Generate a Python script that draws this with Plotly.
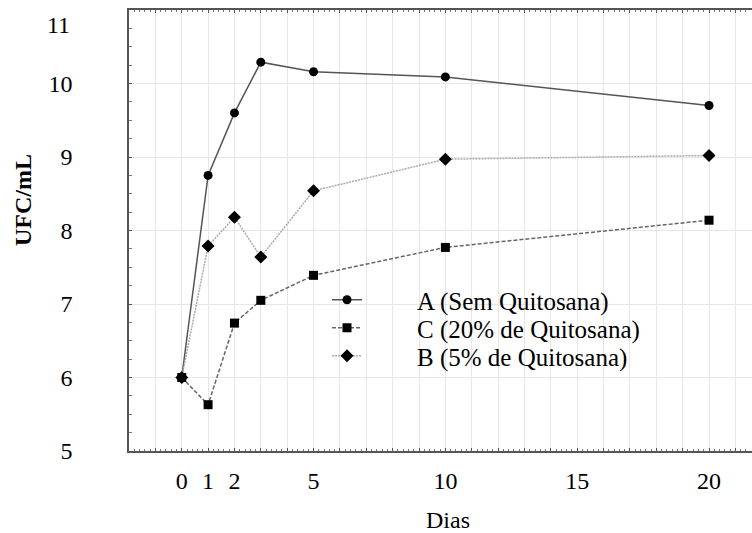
import plotly.graph_objects as go

dias = [0, 1, 2, 3, 5, 10, 20]
serie_a = [6.0, 8.75, 9.60, 10.29, 10.16, 10.09, 9.70]   # A (Sem Quitosana)
serie_c = [6.0, 5.63, 6.74, 7.05, 7.39, 7.77, 8.14]      # C (20% de Quitosana)
serie_b = [6.0, 7.79, 8.18, 7.64, 8.54, 8.97, 9.02]      # B (5% de Quitosana)

x_labels = [0, 1, 2, 5, 10, 15, 20]
x_grid = list(range(-1, 22))
y_ticks = [5, 6, 7, 8, 9, 10, 11]
y_top_label = 11

FONT = "Liberation Serif"
PAD = "\u00a0" * 8
L, T, B, W, H = 129, 10, 451, 752, 533
PW, PH = W - L, B - T


def py(y_px):
    return (B - y_px) / PH


def px(x_px):
    return (x_px - L) / PW


fig = go.Figure()
fig.add_trace(go.Scatter(
    x=dias, y=serie_a, name=PAD + "A (Sem Quitosana)", mode="lines+markers",
    line=dict(color="#555555", width=1.5), legend="legend",
    marker=dict(symbol="circle", size=9, color="black")))
fig.add_trace(go.Scatter(
    x=dias, y=serie_c, name=PAD + "C (20% de Quitosana)", mode="lines+markers",
    line=dict(color="#666666", width=1.5, dash="4px,2px"), legend="legend2",
    marker=dict(symbol="square", size=9, color="black")))
fig.add_trace(go.Scatter(
    x=dias, y=serie_b, name=PAD + "B (5% de Quitosana)", mode="lines+markers",
    line=dict(color="#aaaaaa", width=1.5, dash="2px,1px"), legend="legend3",
    marker=dict(symbol="diamond", size=10, color="black")))

leg_font = dict(family=FONT, size=25, color="black")
leg_common = dict(xanchor="left", yanchor="middle", bgcolor="rgba(0,0,0,0)",
                  borderwidth=0, font=leg_font, x=px(327))

fig.update_layout(
    width=W, height=H,
    margin=dict(l=L, r=0, t=T, b=H - B, autoexpand=False),
    paper_bgcolor="white", plot_bgcolor="white",
    font=dict(family=FONT, color="black", size=24),
    showlegend=True,
    legend=dict(y=py(300), **leg_common),
    legend2=dict(y=py(328), **leg_common),
    legend3=dict(y=py(356), **leg_common),
    shapes=[dict(type="rect", xref="paper", yref="paper", layer="between",
                 x0=px(331), x1=px(668), y0=py(380), y1=py(281),
                 fillcolor="white", line=dict(width=0))],
    xaxis=dict(range=[-2, 21.63], tickmode="array", tickvals=x_grid,
               ticktext=[str(v) if v in x_labels else "" for v in x_grid],
               showgrid=True, gridcolor="#e6e6e6", gridwidth=1, automargin=False,
               zeroline=False, showline=True, linecolor="#555555", linewidth=1.5,
               mirror="ticks", ticks="inside", ticklen=3, tickcolor="#555555",
               ticklabelstandoff=7, ticklabeloverflow="allow",
               minor=dict(dtick=0.2, ticks="inside", ticklen=2, tickcolor="#777777",
                          showgrid=False),
               tickfont=dict(family=FONT, size=24)),
    yaxis=dict(range=[5, 11], tickmode="array", tickvals=y_ticks,
               ticktext=["" if v == y_top_label else str(v) for v in y_ticks],
               showgrid=True, gridcolor="#e6e6e6", gridwidth=1, automargin=False,
               zeroline=False, showline=True, linecolor="#555555", linewidth=1.5,
               mirror=False, ticks="inside", ticklen=3, tickcolor="#555555",
               ticklabelstandoff=50, ticklabeloverflow="allow",
               minor=dict(dtick=0.25, ticks="inside", ticklen=3, tickcolor="#777777",
                          showgrid=False),
               tickfont=dict(family=FONT, size=24)),
    annotations=[
        dict(text=str(y_top_label), xref="paper", yref="y",
             x=px(72), y=y_top_label, yshift=-15,
             showarrow=False, xanchor="right", yanchor="middle",
             font=dict(family=FONT, size=24, color="black")),
        dict(text="<b>UFC/mL</b>", xref="paper", yref="paper",
             x=px(23), y=py(200), textangle=-90,
             showarrow=False, xanchor="center", yanchor="middle",
             font=dict(family=FONT, size=24, color="black")),
        dict(text="Dias", xref="paper", yref="paper",
             x=px(448), y=py(520),
             showarrow=False, xanchor="center", yanchor="middle",
             font=dict(family=FONT, size=24, color="black")),
    ],
)

fig.write_html("out.html", config={"displayModeBar": False},
               post_script="document.body.style.margin='0px';")
